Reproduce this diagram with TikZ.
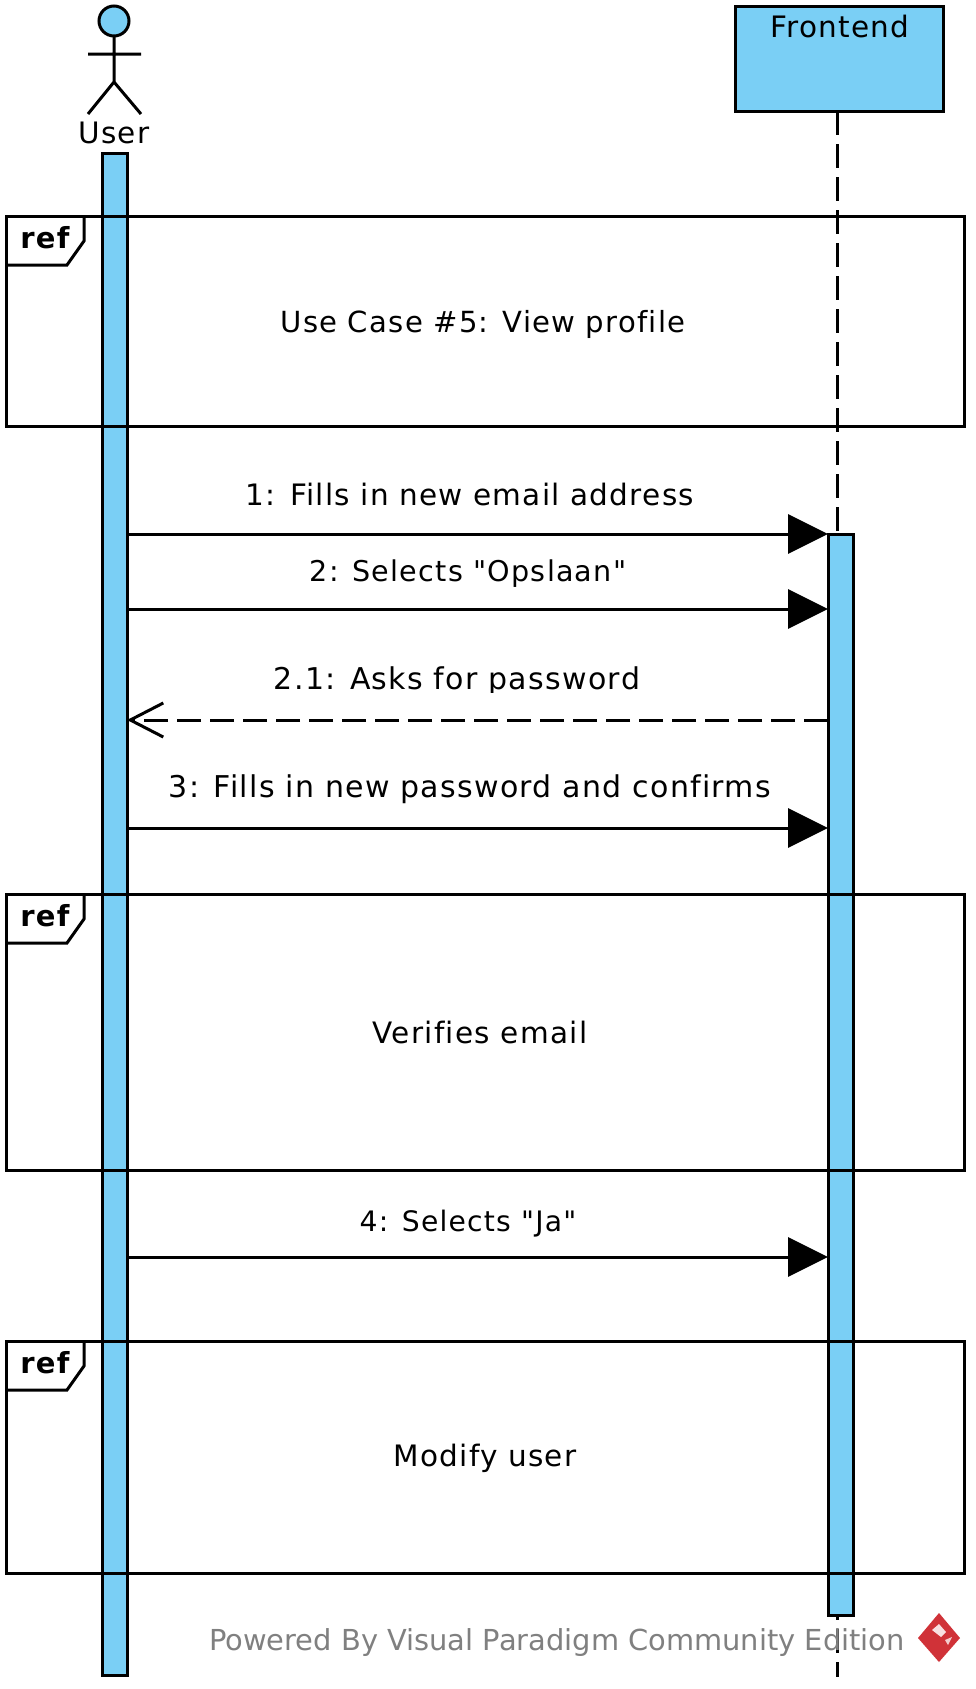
\documentclass[tikz,border=0pt]{standalone}
\usepackage{fontspec}
\setmainfont{DejaVu Sans}
\newfontfamily\msgfont[LetterSpace=4.3,Ligatures=NoCommon]{DejaVu Sans}
\newfontfamily\footfont{DejaVu Sans}
\usetikzlibrary{arrows.meta}
\definecolor{vpblue}{RGB}{122,207,245}
\definecolor{vpgray}{RGB}{128,128,128}
\definecolor{vpred}{RGB}{208,50,56}
\tikzset{
  x=1pt,y=-1pt,
  line/.style={draw=black,line width=3pt},
  bar/.style={line,fill=vpblue,inner sep=0pt,outer sep=0pt,anchor=north west},
  lbl/.style={font=\fontsize{29.5}{34}\msgfont,inner sep=0pt,text=black,anchor=base},
  reflbl/.style={font=\fontsize{29}{34}\msgfont\bfseries,inner sep=0pt,anchor=base},
  sync/.style={line,-{Triangle[length=40pt,width=39pt,fill=black]}},
  reply/.style={line,dash pattern=on 24pt off 9pt,-{Straight Barb[length=33pt,width=34pt]}},
  lifeline/.style={line,dash pattern=on 24pt off 9pt},
  frame/.style={line,line join=miter},
}
\newcommand{\refframe}[3]{%
  \node[line,inner sep=0pt,outer sep=0pt,anchor=north west,minimum width=958pt,minimum height=#2pt-#1pt] (#3) at (6,#1) {};
  \draw[frame] (6,#1+49) -- (67,#1+49) -- (84,#1+25) -- (84,#1);
  \node[reflbl] (#3lab) at (45,#1+32) {ref};
}
\begin{document}
\begin{tikzpicture}
\useasboundingbox (0,0) rectangle (975,1689);
\fill[white] (0,0) rectangle (975,1689);
% lifeline
\node[bar,minimum width=208pt,minimum height=105pt] (fh) at (735,6) {};
\coordinate (lt) at (837.5,111);
\coordinate (lb) at (837.5,1677);
\draw[lifeline] (lt) -- (lb);
% activations
\node[bar,minimum width=25pt,minimum height=1522pt] (ua) at (102,153) {};
\node[bar,minimum width=25pt,minimum height=1081pt] (fa) at (828,534) {};
% actor
\node[line,fill=vpblue,circle,inner sep=0pt,outer sep=0pt,minimum size=30pt] (head) at (114,21) {};
\coordinate (hip) at (114,82);
\coordinate (al) at (88,54);
\coordinate (ar) at (141,54);
\coordinate (ll) at (88,114);
\coordinate (lr) at (141,114);
\draw[line] (head.south) -- (hip) (al) -- (ar) (ll) -- (hip) -- (lr);
\node[lbl] (user) at (114,143) {User};
% frontend label
\node[lbl] (front) at (840,37) {Frontend};
% frames
\refframe{216}{426}{r1}
\refframe{894}{1170}{r2}
\refframe{1341}{1573}{r3}
\node[lbl,font=\fontsize{29.1}{34}\msgfont] (t1) at (483,332) {Use Case \#5: View profile};
\node[lbl] (t2) at (480,1043) {Verifies email};
\node[lbl] (t3) at (485,1466) {Modify user};
% messages
\coordinate (m1) at (0,534);
\coordinate (m2) at (0,609);
\coordinate (m3) at (0,720);
\coordinate (m4) at (0,828);
\coordinate (m5) at (0,1257);
\draw[sync] (ua.east |- m1) -- (fa.west |- m1);
\draw[sync] (ua.east |- m2) -- (fa.west |- m2);
\draw[reply] (fa.west |- m3) -- (ua.east |- m3);
\draw[sync] (ua.east |- m4) -- (fa.west |- m4);
\draw[sync] (ua.east |- m5) -- (fa.west |- m5);
\node[lbl] (l1) at (470,505) {1: Fills in new email address};
\node[lbl,font=\fontsize{28.6}{34}\msgfont] (l2) at (468,581) {2: Selects "Opslaan"};
\begin{scope}
\clip (200,660) rectangle (700,692);
\node[lbl,font=\fontsize{30}{34}\msgfont] (l3) at (457,689) {2.1: Asks for password};
\end{scope}
\node[lbl,font=\fontsize{30}{34}\msgfont] (l4) at (470,797) {3: Fills in new password and confirms};
\node[lbl,font=\fontsize{28.2}{34}\msgfont] (l5) at (468,1231) {4: Selects "Ja"};
% footer
\node[lbl,font=\fontsize{28.9}{34}\footfont,text=vpgray] (foot) at (557,1650) {Powered By Visual Paradigm Community Edition};
% logo
\fill[vpred] (939,1613) -- (960,1638) -- (939,1662) -- (918,1638) -- cycle;
\fill[white!85!vpred] (932,1630) -- (939,1624) -- (946,1632) -- (941,1637) -- cycle;
\fill[white!75!vpred] (945,1640) -- (952,1637) -- (948,1645) -- cycle;
\end{tikzpicture}
\end{document}
